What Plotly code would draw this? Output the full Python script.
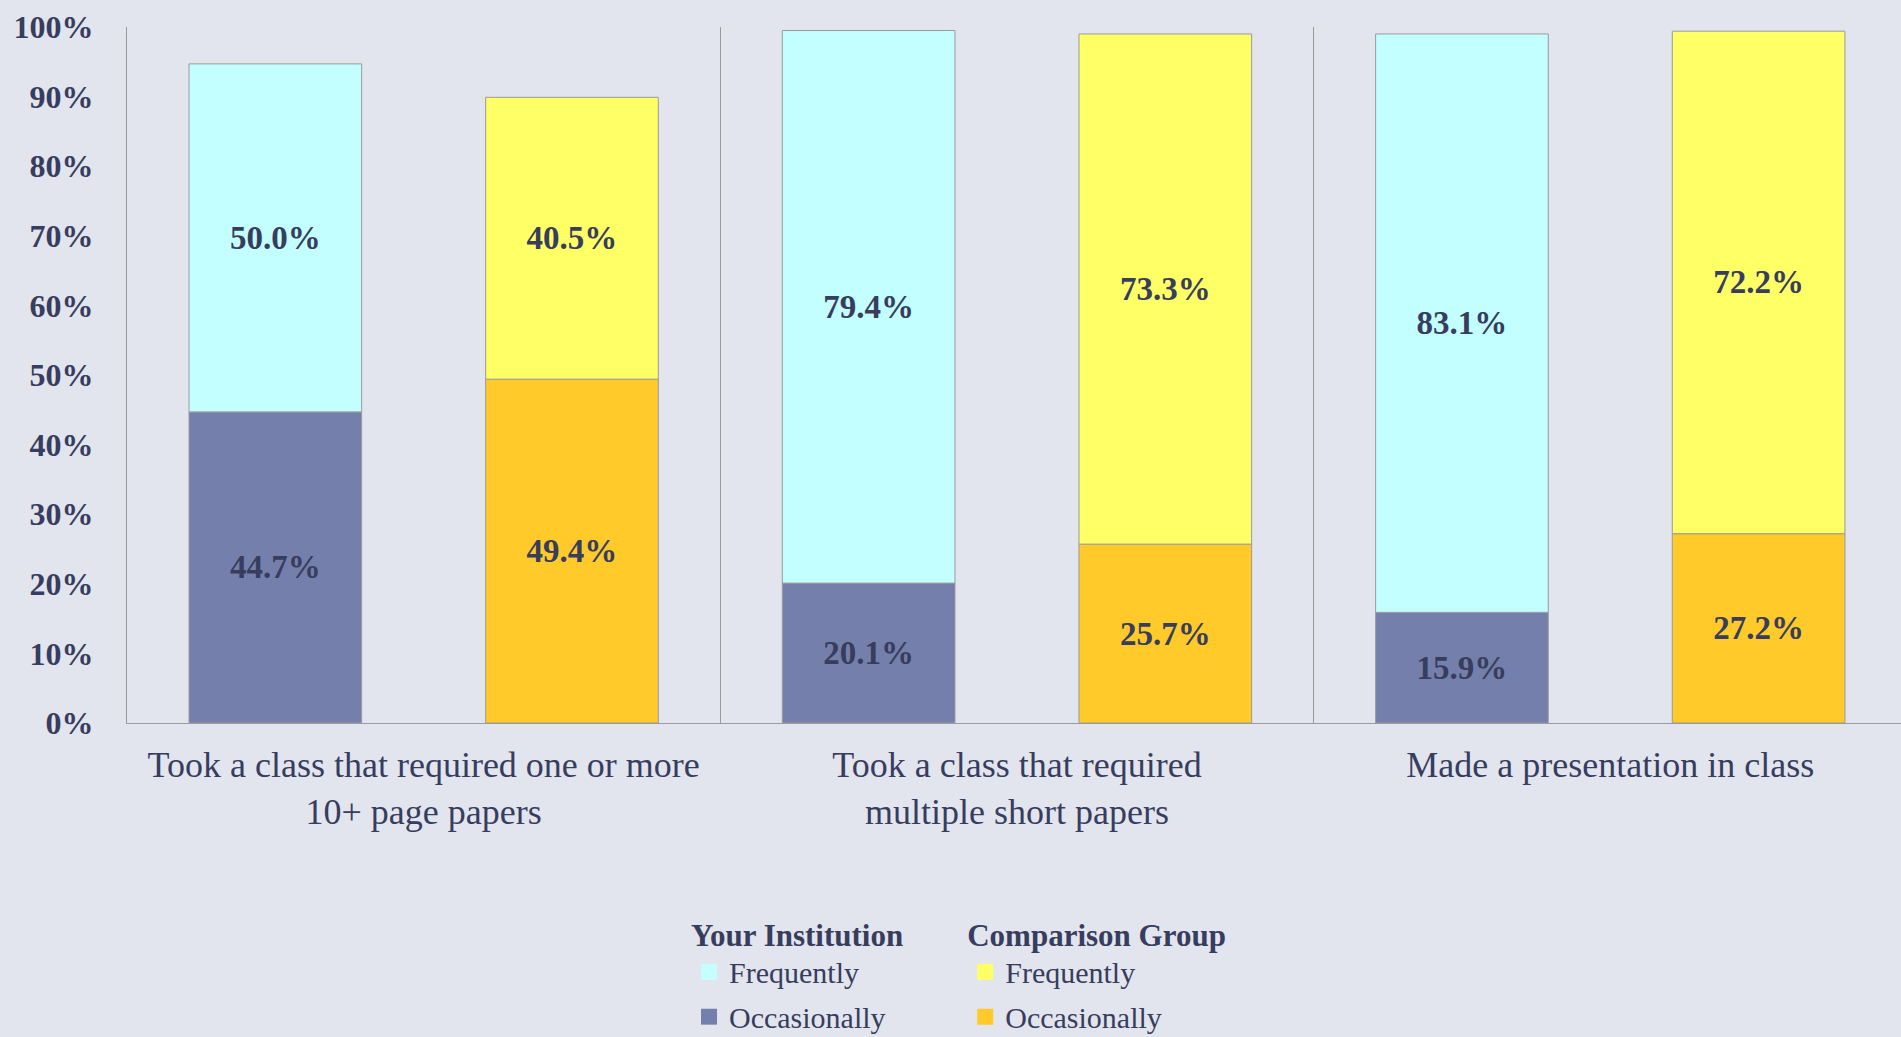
import plotly.graph_objects as go

# Chart data
categories = [
    "Took a class that required one or more<br>10+ page papers",
    "Took a class that required<br>multiple short papers",
    "Made a presentation in class",
]
your_occasionally = [44.7, 20.1, 15.9]
your_frequently = [50.0, 79.4, 83.1]
comp_occasionally = [49.4, 25.7, 27.2]
comp_frequently = [40.5, 73.3, 72.2]

y_ticks = [0, 10, 20, 30, 40, 50, 60, 70, 80, 90, 100]
y_tick_labels = ["0%", "10%", "20%", "30%", "40%", "50%", "60%", "70%", "80%", "90%", "100%"]

FONT = "Liberation Serif"
TEXT_COLOR = "#383d5e"
BG = "#e2e5ee"
EDGE = "#9a9a9a"

COLORS = {
    "your_freq": "#c4ffff",
    "your_occ": "#7480ab",
    "comp_freq": "#ffff66",
    "comp_occ": "#ffca2a",
}

fig = go.Figure()


def add_stack(occ, freq, group, occ_color, freq_color):
    for vals, base, color in ((occ, None, occ_color), (freq, occ, freq_color)):
        fig.add_trace(
            go.Bar(
                x=categories,
                y=vals,
                base=base,
                offsetgroup=group,
                marker=dict(color=color, line=dict(color=EDGE, width=1)),
                texttemplate="%{y:.1f}%",
                textposition="inside",
                insidetextanchor="middle",
                textangle=0,
                textfont=dict(family=FONT, size=33, color=TEXT_COLOR, weight="bold"),
                showlegend=False,
                hoverinfo="skip",
            )
        )


add_stack(your_occasionally, your_frequently, "your", COLORS["your_occ"], COLORS["your_freq"])
add_stack(comp_occasionally, comp_frequently, "comp", COLORS["comp_occ"], COLORS["comp_freq"])

# Legend-only entries (bigger square swatches than the bar icons)
legend_items = [
    ("Frequently", COLORS["your_freq"], "legend", "a"),
    ("Occasionally", COLORS["your_occ"], "legend", "b"),
    ("Frequently", COLORS["comp_freq"], "legend2", "c"),
    ("Occasionally", COLORS["comp_occ"], "legend2", "d"),
]
for name, color, leg, grp in legend_items:
    fig.add_trace(
        go.Scatter(
            x=[categories[0]],
            y=[None],
            mode="markers",
            name=name,
            legend=leg,
            legendgroup=grp,
            marker=dict(symbol="square", size=16, color=color),
            hoverinfo="skip",
        )
    )

legend_style = dict(
    xanchor="left",
    yanchor="top",
    y=-0.262,
    bgcolor="rgba(0,0,0,0)",
    font=dict(family=FONT, size=30, color=TEXT_COLOR),
    traceorder="grouped",
    tracegroupgap=3,
    itemwidth=30,
)

fig.update_layout(
    width=1901,
    height=1037,
    paper_bgcolor=BG,
    plot_bgcolor=BG,
    # legend runs off the bottom like in the original, so don't let it push margins
    margin=dict(l=127, r=0, t=27, b=314, autoexpand=False),
    barmode="group",
    bargap=0,
    bargroupgap=0.418,
    font=dict(family=FONT, color=TEXT_COLOR),
    legend=dict(
        legend_style,
        x=0.3168,
        title=dict(text="<b>Your Institution</b>", font=dict(family=FONT, size=31, color=TEXT_COLOR)),
    ),
    legend2=dict(
        legend_style,
        x=0.4725,
        title=dict(text="<b>Comparison Group</b>", font=dict(family=FONT, size=31, color=TEXT_COLOR)),
    ),
)

fig.update_xaxes(
    type="category",
    range=[-0.5, 2.49],
    tickson="boundaries",
    showgrid=True,
    gridcolor=EDGE,
    gridwidth=1,
    showline=True,
    linecolor=EDGE,
    ticks="",
    tickangle=0,
    automargin=False,
    tickfont=dict(family=FONT, size=36, color=TEXT_COLOR),
    ticklabelstandoff=10,
)

fig.update_yaxes(
    range=[0, 100],
    tickvals=y_ticks,
    ticktext=y_tick_labels,
    showgrid=False,
    zeroline=False,
    showline=True,
    linecolor=EDGE,
    ticks="",
    automargin=False,
    tickfont=dict(family=FONT, size=32, color=TEXT_COLOR, weight="bold"),
    ticklabelstandoff=26,
)

fig.write_html(
    "out.html",
    config={"displayModeBar": False},
    post_script="document.body.style.margin='0';",
)
